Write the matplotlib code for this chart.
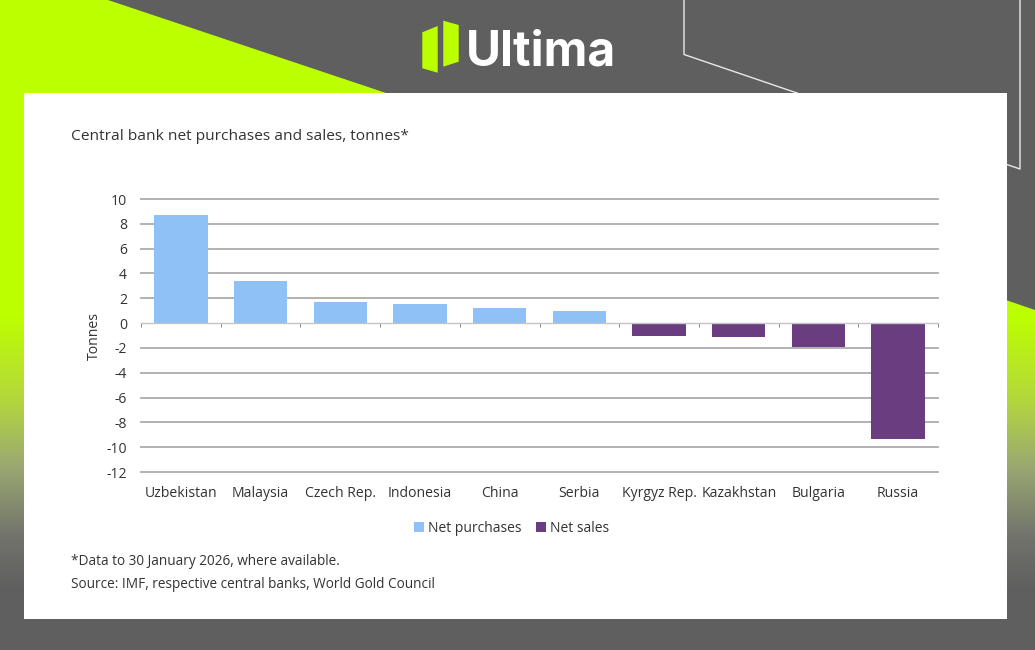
import numpy as np
import matplotlib
matplotlib.use("Agg")
import matplotlib.pyplot as plt
from matplotlib.patches import Polygon, Rectangle
from matplotlib.colors import LinearSegmentedColormap

W, H = 1035, 650
GRAY = "#5f5f5f"
LIME = "#bcff00"
BLUE = "#8fc1f7"
PURPLE = "#6a3d80"
GRID = "#ababab"
TEXT = "#333333"

countries = ["Uzbekistan", "Malaysia", "Czech Rep.", "Indonesia", "China", "Serbia",
             "Kyrgyz Rep.", "Kazakhstan", "Bulgaria", "Russia"]
purchases = [8.75, 3.4, 1.7, 1.5, 1.25, 0.95, None, None, None, None]
sales = [None, None, None, None, None, None, -1.05, -1.15, -1.9, -9.35]
y_ticks = [-12, -10, -8, -6, -4, -2, 0, 2, 4, 6, 8, 10]

plt.rcParams["font.family"] = ["Open Sans", "DejaVu Sans"]
plt.rcParams["axes.unicode_minus"] = False

fig = plt.figure(figsize=(W / 100, H / 100), dpi=100, facecolor=GRAY)

# ── Banner background, drawn in pixel coords ──
bg = fig.add_axes([0, 0, 1, 1])
bg.set_xlim(0, W)
bg.set_ylim(H, 0)
bg.axis("off")

fade = LinearSegmentedColormap.from_list(
    "fade", [(0, LIME), (0.3, "#b4d83c"), (0.55, "#9aa872"), (0.8, "#72746c"), (1, GRAY)])
grad = np.clip((np.arange(H) - 315) / (590 - 315), 0, 1).reshape(-1, 1)

left_shape = Polygon([(0, 0), (108, 0), (386, 93), (386, 650), (0, 650)], transform=bg.transData,
                     facecolor="none", edgecolor="none")
right_shape = Polygon([(1000, 298), (1035, 310), (1035, 650), (1000, 650)], transform=bg.transData,
                      facecolor="none", edgecolor="none")
for shape in (left_shape, right_shape):
    bg.add_patch(shape)
    img = bg.imshow(grad, cmap=fade, vmin=0, vmax=1, extent=(0, W, H, 0), aspect="auto", zorder=1)
    img.set_clip_path(shape)
bg.set_xlim(0, W)
bg.set_ylim(H, 0)

bg.plot([684, 684, 1020, 1020], [0, 54.5, 169, 0], color="#e8e8e8", lw=1.0, zorder=2)
bg.add_patch(Rectangle((24, 93), 982.5, 526, facecolor="white", edgecolor="none", zorder=3))

# Logo
bg.add_patch(Polygon([(422.3, 32.3), (437.7, 26), (437.7, 72.7), (422.3, 68.3)], facecolor=LIME, zorder=4))
bg.add_patch(Polygon([(443.3, 20.7), (458.7, 25), (458.7, 61.7), (443.3, 66.7)], facecolor=LIME, zorder=4))
bg.text(466, 65, "Ultima", color="white", fontsize=34.5, fontweight="bold", family="Inter",
        ha="left", va="baseline", zorder=4)

# Texts on the panel
bg.text(71, 137, "Central bank net purchases and sales, tonnes*", color=TEXT, fontsize=11.15,
        ha="left", va="center", zorder=4)
bg.text(71, 561.5, "*Data to 30 January 2026, where available.", color=TEXT, fontsize=9.8,
        ha="left", va="center", zorder=4)
bg.text(71, 584, "Source: IMF, respective central banks, World Gold Council", color=TEXT, fontsize=9.82,
        ha="left", va="center", zorder=4)

# ── Chart ──
ax = fig.add_axes([141 / W, 1 - 472 / H, (938 - 141) / W, (472 - 199) / H])
ax.patch.set_alpha(0)
x = np.arange(len(countries))
pur = [np.nan if v is None else v for v in purchases]
sal = [np.nan if v is None else v for v in sales]
ax.bar(x, pur, width=0.67, color=BLUE, label="Net purchases", zorder=3)
ax.bar(x, sal, width=0.67, color=PURPLE, label="Net sales", zorder=3)

ax.set_xlim(-0.5, len(countries) - 0.5)
ax.set_ylim(-12, 10)
ax.set_yticks(y_ticks)
ax.tick_params(axis="y", length=0, pad=10, labelsize=10.1, labelcolor=TEXT)
for v in y_ticks:
    if v != 0:
        ax.axhline(v, color=GRID, lw=1.3, zorder=1, clip_on=False)

for side in ("top", "left", "right"):
    ax.spines[side].set_visible(False)
ax.spines["bottom"].set_position(("data", 0))
ax.spines["bottom"].set_color("#c4c4c4")
ax.spines["bottom"].set_linewidth(1.0)
ax.spines["bottom"].set_zorder(4)

ax.set_xticks(np.arange(len(countries) + 1) - 0.5)
ax.tick_params(axis="x", which="major", length=3, width=0.7, color="#888888", labelbottom=False)
ax.set_xticks(x, minor=True)
ax.set_xticklabels(countries, minor=True)
ax.tick_params(axis="x", which="minor", length=0, pad=117.5, labelsize=10.05, labelcolor=TEXT)

ax.set_ylabel("Tonnes", fontsize=10.1, color=TEXT, labelpad=3)

fig.legend(loc="center", bbox_to_anchor=(511.5 / W, 1 - 528 / H), ncol=2, frameon=False,
           fontsize=10, labelcolor=TEXT, handlelength=0.7, handleheight=0.7,
           handletextpad=0.25, columnspacing=1.1, borderpad=0, borderaxespad=0)

fig.savefig("out.png", dpi=100, facecolor=GRAY)
plt.close(fig)
